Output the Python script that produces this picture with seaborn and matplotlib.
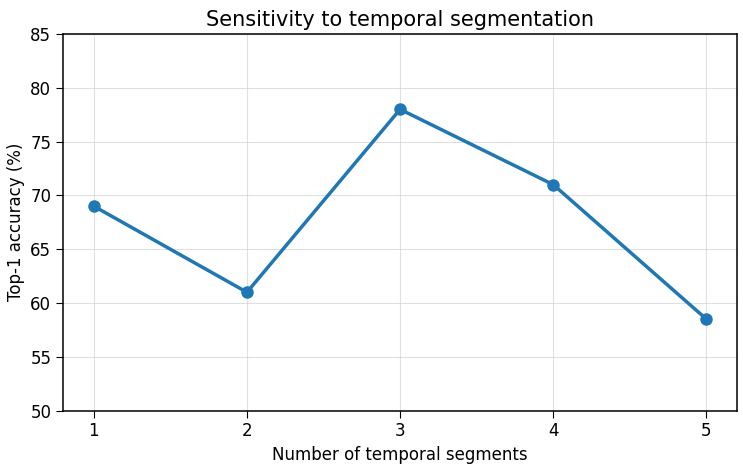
import matplotlib
matplotlib.use("Agg")
import matplotlib.pyplot as plt
import seaborn as sns
import pandas as pd

segments = [1, 2, 3, 4, 5]
accuracy = [69, 61, 78, 71, 58.5]

df = pd.DataFrame({"segments": segments, "accuracy": accuracy})

sns.set_style("ticks")
plt.rcParams["font.family"] = ["DejaVu Sans"]
plt.rcParams["text.color"] = "black"
plt.rcParams["axes.labelcolor"] = "black"
plt.rcParams["xtick.color"] = "black"
plt.rcParams["ytick.color"] = "black"
plt.rcParams["axes.edgecolor"] = "black"

fig, ax = plt.subplots(figsize=(7.43, 4.72), dpi=100)
sns.lineplot(data=df, x="segments", y="accuracy", marker="o", color="#1f77b4",
             linewidth=2.5, markersize=9, markeredgewidth=0, ax=ax)

ax.set_xlim(0.8, 5.2)
ax.set_ylim(50, 85)
ax.set_xticks(segments)
ax.set_yticks(range(50, 86, 5))
ax.grid(True, color="#cccccc", alpha=0.6, linewidth=0.8)
ax.tick_params(labelsize=12, length=5, colors="black")
ax.set_xlabel("Number of temporal segments", fontsize=12, color="black")
ax.set_ylabel("Top-1 accuracy (%)", fontsize=12, color="black")
ax.set_title("Sensitivity to temporal segmentation", fontsize=15, color="black")
for s in ax.spines.values():
    s.set_linewidth(1.1)
    s.set_color("black")

fig.subplots_adjust(left=0.085, right=0.992, top=0.928, bottom=0.13)
fig.savefig("out.png", dpi=100)
